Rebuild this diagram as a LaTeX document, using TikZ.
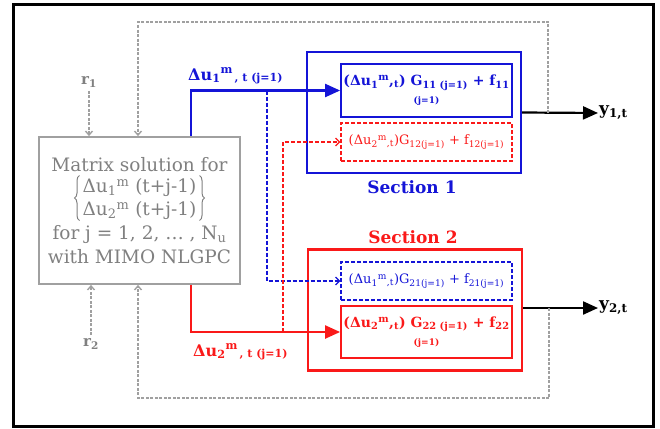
\documentclass[tikz,border=0pt]{standalone}
\usepackage{fontspec}
\setmainfont{DejaVu Serif}
\usetikzlibrary{arrows.meta,decorations.pathreplacing}
\definecolor{myblue}{RGB}{20,20,215}
\definecolor{myred}{RGB}{250,25,25}
\definecolor{mygray}{RGB}{160,160,160}
\definecolor{txtgray}{RGB}{128,128,128}
\newcommand{\sbs}[1]{\textsubscript{#1}}
\newcommand{\sps}[1]{\textsuperscript{#1}}
\newcommand{\fs}[2]{\fontsize{#1}{#2}\selectfont}
\tikzset{
  secbox/.style={draw, line width=2.2pt, minimum width=214pt, minimum height=121pt, inner sep=0pt},
  inbox/.style={draw, line width=1.8pt, minimum width=171pt, inner sep=0pt, align=center},
  dbox/.style={draw, line width=1.2pt, dash pattern=on 4pt off 2pt, minimum width=171pt, minimum height=38pt, inner sep=0pt, align=center},
  conn/.style={line width=2.2pt, -{Triangle[length=15pt,width=13pt]}},
  dconn/.style={line width=1.2pt, dash pattern=on 4pt off 2pt, -{Straight Barb[length=4pt,width=8pt]}},
  gconn/.style={mygray, line width=1.4pt, dash pattern=on 3pt off 1.5pt, -{Straight Barb[length=4pt,width=7pt]}},
  curly/.style={txtgray, line width=1pt, decorate, decoration={brace, amplitude=5pt}}
}
\begin{document}
\begin{tikzpicture}[x=1pt,y=-1pt]
\useasboundingbox (0,0) rectangle (660,428);
\draw[line width=3pt] (13,5) rectangle (653,426);

% solver
\node[draw=mygray, line width=1.8pt, minimum width=201pt, minimum height=147pt, inner sep=0pt, align=center, text=txtgray, font=\fs{18.5}{24}] (solver) at (139.5,210.5)
 {Matrix solution for\\[3pt]
  \begin{tabular}{@{}l@{}}Δu\sbs{1}\sps{m}\ (t+j-1)\\[-1pt]Δu\sbs{2}\sps{m}\ (t+j-1)\end{tabular}\\[2pt]
  for j = 1, 2, … , N\sbs{u}\\with MIMO NLGPC};
\draw[curly] ([shift={(-60,10)}]solver.center) -- ([shift={(-60,-35)}]solver.center);
\draw[curly] ([shift={(60,-35)}]solver.center) -- ([shift={(60,10)}]solver.center);

% sections
\node[secbox, draw=myblue] (sec1) at (414,112.5) {};
\node[secbox, draw=myred] (sec2) at (415,310) {};
\node[inbox, draw=myblue, text=myblue, minimum height=53pt, font=\bfseries\fs{14}{18}] (b11) at (426.5,90.5)
 {(Δu\sbs{1}\sps{m},\sbs{t}) G\sbs{11 (j=1)} + f\sbs{11}\\{\fs{9}{10}(j=1)}};
\node[dbox, draw=myred, text=myred, font=\fs{13}{15}] (b12) at (426.5,142)
 {(Δu\sbs{2}\sps{m}\sbs{,t})G\sbs{12(j=1)} + f\sbs{12(j=1)}};
\node[dbox, draw=myblue, text=myblue, font=\fs{13}{15}] (b21) at (426.5,281)
 {(Δu\sbs{1}\sps{m}\sbs{,t})G\sbs{21(j=1)} + f\sbs{21(j=1)}};
\node[inbox, draw=myred, text=myred, minimum height=52pt, font=\bfseries\fs{14}{18}] (b22) at (426.5,332)
 {(Δu\sbs{2}\sps{m},\sbs{t}) G\sbs{22 (j=1)} + f\sbs{22}\\{\fs{9}{10}(j=1)}};
\node[text=myblue, font=\bfseries\fs{17}{20}] (s1lab) at (412,187) {Section 1};
\node[text=myred, font=\bfseries\fs{17}{20}] (s2lab) at (413,237) {Section 2};

% labels
\node[anchor=base west, inner sep=0pt, text=myblue, font=\bfseries\fs{16}{18}] (l1) at (188,80)
 {Δu\sbs{1}\sps{m}\raisebox{-1.5pt}{\fs{11}{12}\,, t (j=1)}};
\node[anchor=base west, inner sep=0pt, text=myred, font=\bfseries\fs{16}{18}] (l2) at (193,356)
 {Δu\sbs{2}\sps{m}\raisebox{-1.5pt}{\fs{11}{12}\,, t (j=1)}};
\node[anchor=west, inner sep=1pt, font=\bfseries\fs{17}{20}] (y1) at (598,113) {y\sbs{1,t}};
\node[anchor=west, inner sep=1pt, font=\bfseries\fs{17}{20}] (y2) at (598,308) {y\sbs{2,t}};
\node[text=txtgray, font=\bfseries\fs{15}{18}] (r1) at (89,82) {r\sbs{1}};
\node[text=txtgray, font=\bfseries\fs{15}{18}] (r2) at (91,344) {r\sbs{2}};

% coordinates
\coordinate (xu) at (191,0);
\coordinate (xbd) at (267,0);
\coordinate (xrd) at (283,0);
\coordinate (xfb) at (138,0);
\coordinate (top) at (548,22);
\coordinate (bot) at (549,398);

% main connectors
\draw[conn, myblue] (solver.north -| xu) |- (b11.west);
\draw[conn, myred] (solver.south -| xu) |- (b22.west);
\draw[dconn, myblue] (b11.west -| xbd) |- (b21.west);
\draw[dconn, myred] (b22.west -| xrd) |- (b12.west);
\draw[conn] (sec1.east) -- (y1.west);
\draw[conn] (sec2.east |- y2.west) -- (y2.west);

% feedback
\draw[gconn] (top |- y1.west) -- (top) -- (xfb |- top) -- (xfb |- solver.north);
\draw[gconn] (bot |- y2.west) -- (bot) -- (xfb |- bot) -- (xfb |- solver.south);
\draw[gconn] (r1.south) -- (r1 |- solver.north);
\draw[gconn] (r2.north) -- (r2 |- solver.south);
\end{tikzpicture}
\end{document}
